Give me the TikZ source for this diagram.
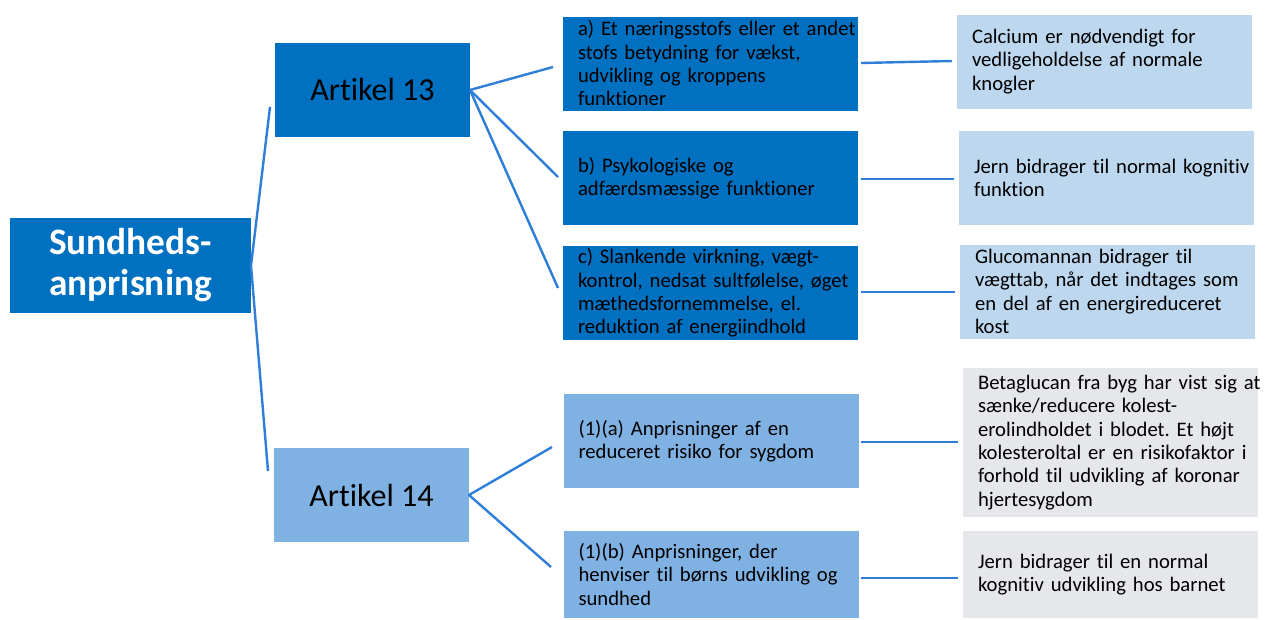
\documentclass[tikz,border=0pt]{standalone}
\usepackage{fontspec}
\setmainfont{Carlito}[RawFeature={-liga}]
\definecolor{dkblue}{HTML}{0070C0}
\definecolor{mdblue}{HTML}{7FB1E3}
\definecolor{ltblue}{HTML}{BDD7EE}
\definecolor{ltgray}{HTML}{E5E7EB}
\definecolor{linec}{HTML}{2F7FD9}
\newcommand\lline[1]{\mbox{#1}}
\frenchspacing
\begin{document}
\begin{tikzpicture}[x=0.75pt,y=-0.75pt,
  base/.style={rectangle, inner ysep=0pt, outer sep=0pt},
  txtbox/.style={base, text width=198.75pt, inner xsep=11.25pt, minimum height=70.5pt, align=left,
     text=black, font=\fontsize{15.5pt}{17.5pt}\selectfont},
  midbox/.style={txtbox, fill=dkblue},
  mid14/.style={txtbox, fill=mdblue},
  rbox/.style={txtbox, fill=ltblue},
  gbox/.style={txtbox, fill=ltgray},
  artbox/.style={base, inner xsep=0pt, minimum width=146.25pt, minimum height=70.5pt, align=center,
     text=black, font=\fontsize{24pt}{28pt}\selectfont},
  conn/.style={draw=linec, line width=1.8pt, line join=round}
]
\useasboundingbox[fill=white] (0,0) rectangle (1270,619);

% root
\node[base, fill=dkblue, minimum width=180.75pt, minimum height=71.25pt, align=center, text=white,
  font=\fontsize{28pt}{30.75pt}\selectfont\bfseries] (S) at (130.5,265.5) {Sundheds-\\anprisning};

% articles
\node[artbox, fill=dkblue] (A13) at (372.5,90) {Artikel 13};
\node[artbox, fill=mdblue] (A14) at (371.5,495) {Artikel 14};

% middle column
\node[midbox] (a) at (710.5,63.5) {\lline{a) Et næringsstofs eller et andet}\\\lline{stofs betydning for vækst,}\\\lline{udvikling og kroppens}\\\lline{funktioner}};
\node[midbox] (b) at (710.5,178) {\lline{b) Psykologiske og}\\\lline{adfærdsmæssige funktioner}};
\node[midbox] (c) at (710.5,293) {\lline{c) Slankende virkning, vægt-}\\\lline{kontrol, nedsat sultfølelse, øget}\\\lline{mæthedsfornemmelse, el.}\\\lline{reduktion af energiindhold}};
\node[mid14] (p1a) at (711,441) {\lline{(1)(a) Anprisninger af en}\\\lline{reduceret risiko for sygdom}};
\node[mid14, minimum height=65.25pt] (p1b) at (711,574.5) {\lline{(1)(b) Anprisninger, der}\\\lline{henviser til børns udvikling og}\\\lline{sundhed}};

% right column
\node[rbox] (r1) at (1104.5,61.5) {\lline{Calcium er nødvendigt for}\\\lline{vedligeholdelse af normale}\\\lline{knogler}};
\node[rbox] (r2) at (1106.5,178) {\lline{Jern bidrager til normal kognitiv}\\\lline{funktion}};
\node[rbox] (r3) at (1107.5,291.5) {\lline{Glucomannan bidrager til}\\\lline{vægttab, når det indtages som}\\\lline{en del af en energireduceret}\\\lline{kost}};
\node[gbox, minimum height=111.75pt] (r4) at (1110.5,442.5) {\lline{Betaglucan fra byg har vist sig at}\\\lline{sænke/reducere kolest-}\\\lline{erolindholdet i blodet. Et højt}\\\lline{kolesteroltal er en risikofaktor i}\\\lline{forhold til udvikling af koronar}\\\lline{hjertesygdom}};
\node[gbox, minimum height=65.25pt] (r5) at (1110.5,574.5) {\lline{Jern bidrager til en normal}\\\lline{kognitiv udvikling hos barnet}};

% free connector ends
\coordinate (sTop) at (270,107);
\coordinate (sBot) at (268,471);
\coordinate (toA) at (553,67);
\coordinate (toB) at (558,177);
\coordinate (toC) at (558,288);
\coordinate (to1a) at (552,447);
\coordinate (to1b) at (551,567);
\coordinate (aOut) at (861,63);   \coordinate (r1In) at (952,61);
\coordinate (bOut) at (861,179);  \coordinate (r2In) at (954,179);
\coordinate (cOut) at (861,292);  \coordinate (r3In) at (955,292);
\coordinate (p1aOut) at (861,442); \coordinate (r4In) at (958,442);
\coordinate (p1bOut) at (861,578); \coordinate (r5In) at (958,578);

% connectors
\draw[conn] (sTop) -- (S.east) -- (sBot);
\draw[conn] (A13.east) -- (toA);
\draw[conn] (A13.east) -- (toB);
\draw[conn] (A13.east) -- (toC);
\draw[conn] (to1a) -- (A14.east) -- (to1b);
\draw[conn] (aOut) -- (r1In);
\draw[conn] (bOut) -- (r2In);
\draw[conn] (cOut) -- (r3In);
\draw[conn] (p1aOut) -- (r4In);
\draw[conn] (p1bOut) -- (r5In);
\end{tikzpicture}
\end{document}
